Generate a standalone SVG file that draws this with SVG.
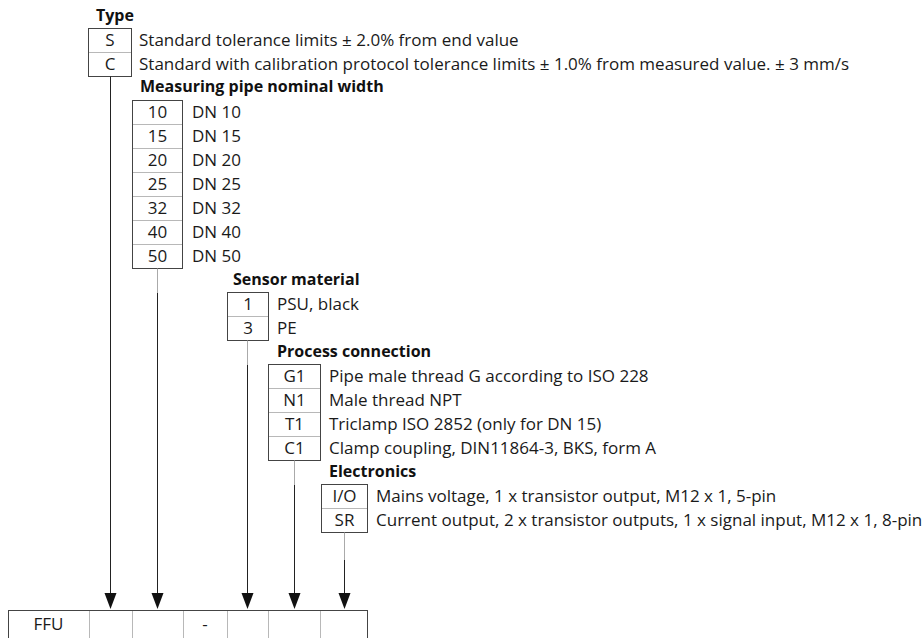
<svg xmlns="http://www.w3.org/2000/svg" width="922" height="638" viewBox="0 0 922 638">
<defs>
<style>
.t{font-family:"Open Sans","Liberation Sans",sans-serif;font-size:17px;fill:#1a1a1a}
.h{font-family:"Open Sans","Liberation Sans",sans-serif;font-size:16px;font-weight:bold;fill:#111}
.c{text-anchor:middle}
.box{fill:none;stroke:#444;stroke-width:1}
.div{stroke:#b8b8b8;stroke-width:1}
.ln{stroke:#222;stroke-width:1;fill:none}
.lg{stroke:#aaa;stroke-width:1;fill:none}
.ah{fill:#111}
</style>
</defs>
<rect width="922" height="638" fill="#fff"/>

<g id="type">
<text class="h" x="96" y="21">Type</text>
<rect class="box" x="88.5" y="28.5" width="43" height="48"/>
<line class="div" x1="89" y1="52.5" x2="131" y2="52.5"/>
<text class="t c" x="110" y="46">S</text>
<text class="t c" x="110" y="70">C</text>
<text class="t" x="139" y="46">Standard tolerance limits ± 2.0% from end value</text>
<text class="t" x="139" y="70">Standard with calibration protocol tolerance limits ± 1.0% from measured value. ± 3 mm/s</text>
</g>

<g id="pipe">
<text class="h" x="140" y="92">Measuring pipe nominal width</text>
<rect class="box" x="132.5" y="100.5" width="50" height="168"/>
<line class="div" x1="133" y1="124.5" x2="182" y2="124.5"/>
<line class="div" x1="133" y1="148.5" x2="182" y2="148.5"/>
<line class="div" x1="133" y1="172.5" x2="182" y2="172.5"/>
<line class="div" x1="133" y1="196.5" x2="182" y2="196.5"/>
<line class="div" x1="133" y1="220.5" x2="182" y2="220.5"/>
<line class="div" x1="133" y1="244.5" x2="182" y2="244.5"/>
<text class="t c" x="157.5" y="118">10</text>
<text class="t c" x="157.5" y="142">15</text>
<text class="t c" x="157.5" y="166">20</text>
<text class="t c" x="157.5" y="190">25</text>
<text class="t c" x="157.5" y="214">32</text>
<text class="t c" x="157.5" y="238">40</text>
<text class="t c" x="157.5" y="262">50</text>
<text class="t" x="192" y="118">DN 10</text>
<text class="t" x="192" y="142">DN 15</text>
<text class="t" x="192" y="166">DN 20</text>
<text class="t" x="192" y="190">DN 25</text>
<text class="t" x="192" y="214">DN 32</text>
<text class="t" x="192" y="238">DN 40</text>
<text class="t" x="192" y="262">DN 50</text>
</g>

<g id="sensor">
<text class="h" x="233" y="285">Sensor material</text>
<rect class="box" x="227.5" y="292.5" width="41" height="48"/>
<line class="div" x1="228" y1="316.5" x2="268" y2="316.5"/>
<text class="t c" x="248" y="310">1</text>
<text class="t c" x="248" y="334">3</text>
<text class="t" x="277" y="310">PSU, black</text>
<text class="t" x="277" y="334">PE</text>
</g>

<g id="process">
<text class="h" x="277" y="357">Process connection</text>
<rect class="box" x="268.5" y="364.5" width="52" height="96"/>
<line class="div" x1="269" y1="388.5" x2="320" y2="388.5"/>
<line class="div" x1="269" y1="412.5" x2="320" y2="412.5"/>
<line class="div" x1="269" y1="436.5" x2="320" y2="436.5"/>
<text class="t c" x="294.5" y="382">G1</text>
<text class="t c" x="294.5" y="406">N1</text>
<text class="t c" x="294.5" y="430">T1</text>
<text class="t c" x="294.5" y="454">C1</text>
<text class="t" x="329" y="382">Pipe male thread G according to ISO 228</text>
<text class="t" x="329" y="406">Male thread NPT</text>
<text class="t" x="329" y="430">Triclamp ISO 2852 (only for DN 15)</text>
<text class="t" x="329" y="454">Clamp coupling, DIN11864-3, BKS, form A</text>
</g>

<g id="electronics">
<text class="h" x="329" y="477">Electronics</text>
<rect class="box" x="321.5" y="484.5" width="46" height="48"/>
<line class="div" x1="322" y1="508.5" x2="367" y2="508.5"/>
<text class="t c" x="344.5" y="502">I/O</text>
<text class="t c" x="344.5" y="526">SR</text>
<text class="t" x="376" y="502">Mains voltage, 1 x transistor output, M12 x 1, 5-pin</text>
<text class="t" x="376" y="526">Current output, 2 x transistor outputs, 1 x signal input, M12 x 1, 8-pin</text>
</g>

<g id="connectors">
<line class="ln" x1="110.5" y1="76.5" x2="110.5" y2="594"/>
<line class="lg" x1="157.5" y1="268.5" x2="157.5" y2="293"/>
<line class="ln" x1="157.5" y1="293" x2="157.5" y2="594"/>
<line class="lg" x1="247.5" y1="340.5" x2="247.5" y2="365"/>
<line class="ln" x1="247.5" y1="365" x2="247.5" y2="594"/>
<line class="lg" x1="294.5" y1="460.5" x2="294.5" y2="485"/>
<line class="ln" x1="294.5" y1="485" x2="294.5" y2="594"/>
<line class="lg" x1="344.5" y1="532.5" x2="344.5" y2="560"/>
<line class="ln" x1="344.5" y1="560" x2="344.5" y2="594"/>
<polygon class="ah" points="104.5,593 116.5,593 110.5,609"/>
<polygon class="ah" points="151.5,593 163.5,593 157.5,609"/>
<polygon class="ah" points="241.5,593 253.5,593 247.5,609"/>
<polygon class="ah" points="288.5,593 300.5,593 294.5,609"/>
<polygon class="ah" points="338.5,593 350.5,593 344.5,609"/>
</g>

<g id="code">
<rect class="box" x="8.5" y="610.5" width="359" height="40"/>
<line class="div" x1="89.5" y1="611" x2="89.5" y2="638"/>
<line class="div" x1="132.5" y1="611" x2="132.5" y2="638"/>
<line class="div" x1="183.5" y1="611" x2="183.5" y2="638"/>
<line class="div" x1="227.5" y1="611" x2="227.5" y2="638"/>
<line class="div" x1="268.5" y1="611" x2="268.5" y2="638"/>
<line class="div" x1="320.5" y1="611" x2="320.5" y2="638"/>
<text class="t c" x="48.5" y="630">FFU</text>
<text class="t c" x="205" y="630">-</text>
</g>
</svg>
